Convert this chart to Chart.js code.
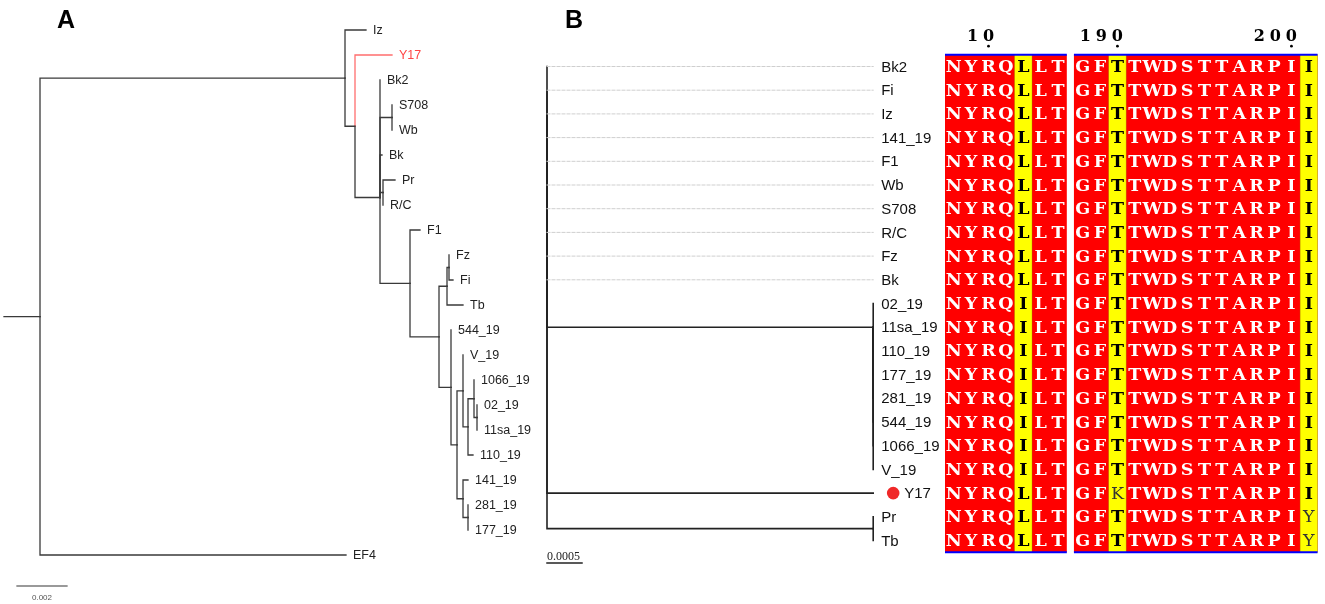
<!DOCTYPE html>
<html>
<head>
<meta charset="utf-8">
<script src="https://cdn.jsdelivr.net/npm/chart.js@4.4.1/dist/chart.umd.min.js"></script>
<style>
  html, body { margin: 0; padding: 0; background: #fff; }
  #wrap { width: 1325px; height: 604px; }
</style>
</head>
<body>
<div id="wrap"><canvas id="treeChart" width="1325" height="604"></canvas></div>
<script>
// ---- panel A: tree, branch lengths in substitutions/site ----
const leavesA = ['Iz', 'Y17', 'Bk2', 'S708', 'Wb', 'Bk', 'Pr', 'R/C', 'F1', 'Fz', 'Fi', 'Tb',
                 '544_19', 'V_19', '1066_19', '02_19', '11sa_19', '110_19', '141_19', '281_19', '177_19', 'EF4'];
// [child, parent, branch length]
const edgesA = [
  ['n1', 'root', 0.0122],
  ['Iz', 'n1', 0.00084],
  ['n2', 'n1', 0.0004],
  ['Y17', 'n2', 0.00148],
  ['n3', 'n2', 0.001],
  ['Bk2', 'n3', 0],
  ['n4', 'n3', 0.00048],
  ['S708', 'n4', 0],
  ['Wb', 'n4', 0],
  ['Bk', 'n3', 0.00008],
  ['n5', 'n3', 0.00012],
  ['Pr', 'n5', 0.00048],
  ['R/C', 'n5', 0],
  ['n6', 'n3', 0.0012],
  ['F1', 'n6', 0.0004],
  ['n7', 'n6', 0.00116],
  ['n8', 'n7', 0.00032],
  ['n9', 'n8', 0.00008],
  ['Fz', 'n9', 0],
  ['Fi', 'n9', 0.00016],
  ['Tb', 'n8', 0.00064],
  ['n10', 'n7', 0.00048],
  ['544_19', 'n10', 0],
  ['n11', 'n10', 0.00024],
  ['n12', 'n11', 0.00024],
  ['V_19', 'n12', 0],
  ['n13', 'n12', 0.0002],
  ['n14', 'n13', 0.00024],
  ['1066_19', 'n14', 0],
  ['n15', 'n14', 0.00012],
  ['02_19', 'n15', 0],
  ['11sa_19', 'n15', 0],
  ['110_19', 'n13', 0.0002],
  ['n16', 'n11', 0.00024],
  ['141_19', 'n16', 0.0002],
  ['n17', 'n16', 0.0002],
  ['281_19', 'n17', 0],
  ['177_19', 'n17', 0],
  ['EF4', 'root', 0.01224]
];
const attachRowA = { n3: 6.7 };
const rootStubA = 0.00144;
const scaleBarA = 0.002;
const highlightA = ['Y17'];

// ---- panel B: tree + alignment ----
const leavesB = ['Bk2', 'Fi', 'Iz', '141_19', 'F1', 'Wb', 'S708', 'R/C', 'Fz', 'Bk',
                 '02_19', '11sa_19', '110_19', '177_19', '281_19', '544_19', '1066_19', 'V_19',
                 'Y17', 'Pr', 'Tb'];
const edgesB = [
  ['Bk2', 'root', 0], ['Fi', 'root', 0], ['Iz', 'root', 0], ['141_19', 'root', 0], ['F1', 'root', 0],
  ['Wb', 'root', 0], ['S708', 'root', 0], ['R/C', 'root', 0], ['Fz', 'root', 0], ['Bk', 'root', 0],
  ['c1', 'root', 0.00466],
  ['02_19', 'c1', 0], ['11sa_19', 'c1', 0], ['110_19', 'c1', 0], ['177_19', 'c1', 0],
  ['281_19', 'c1', 0], ['544_19', 'c1', 0], ['1066_19', 'c1', 0], ['V_19', 'c1', 0],
  ['Y17', 'root', 0.00466],
  ['c2', 'root', 0.00466],
  ['Pr', 'c2', 0], ['Tb', 'c2', 0]
];
const attachRowB = { c1: 11 };
const scaleBarB = 0.0005;
const markedB = ['Y17'];

// alignment, one string per leaf of panel B, in the same order
const blockStarts = [8, 188];
const block1 = ['NYRQLLT', 'NYRQLLT', 'NYRQLLT', 'NYRQLLT', 'NYRQLLT', 'NYRQLLT', 'NYRQLLT',
                'NYRQLLT', 'NYRQLLT', 'NYRQLLT', 'NYRQILT', 'NYRQILT', 'NYRQILT', 'NYRQILT',
                'NYRQILT', 'NYRQILT', 'NYRQILT', 'NYRQILT', 'NYRQLLT', 'NYRQLLT', 'NYRQLLT'];
const block2 = ['GFTTWDSTTARPII', 'GFTTWDSTTARPII', 'GFTTWDSTTARPII', 'GFTTWDSTTARPII',
                'GFTTWDSTTARPII', 'GFTTWDSTTARPII', 'GFTTWDSTTARPII', 'GFTTWDSTTARPII',
                'GFTTWDSTTARPII', 'GFTTWDSTTARPII', 'GFTTWDSTTARPII', 'GFTTWDSTTARPII',
                'GFTTWDSTTARPII', 'GFTTWDSTTARPII', 'GFTTWDSTTARPII', 'GFTTWDSTTARPII',
                'GFTTWDSTTARPII', 'GFTTWDSTTARPII', 'GFKTWDSTTARPII', 'GFTTWDSTTARPIY',
                'GFTTWDSTTARPIY'];
const simGroups = ['ILMV', 'ST', 'FYW', 'KR', 'DE', 'NQ'];

// ---- layout helpers ----
function layoutTree(edges, leaves, fixedRows) {
  const kids = {}, len = {}, pos = {};
  edges.forEach(([c, p, l]) => { (kids[p] = kids[p] || []).push(c); len[c] = l; });
  function place(n, x) {
    const ch = kids[n] || [];
    ch.forEach(c => place(c, x + len[c]));
    let y;
    if (!ch.length) y = leaves.indexOf(n);
    else {
      const ys = ch.map(c => pos[c].y);
      y = (Math.min(...ys) + Math.max(...ys)) / 2;
    }
    if (fixedRows && n in fixedRows) y = fixedRows[n];
    pos[n] = { x: x, y: y };
  }
  place('root', 0);
  return { kids, pos };
}

const treeA = layoutTree(edgesA, leavesA, attachRowA);
const treeB = layoutTree(edgesB, leavesB, attachRowB);
const tipB = Math.max(...leavesB.map(n => treeB.pos[n].x));

const RED = 'rgb(255, 70, 70)';
const datasets = [];

function line(pts, xId, yId, color, width, dash) {
  datasets.push({
    data: pts, xAxisID: xId, yAxisID: yId,
    showLine: true, pointRadius: 0, borderColor: color, borderWidth: width,
    borderDash: dash || [], borderJoinStyle: 'miter', borderCapStyle: 'square', fill: false
  });
}

function treeLines(tree, xId, yId, color, width, highlight) {
  Object.keys(tree.kids).forEach(p => {
    tree.kids[p].forEach(c => {
      const a = tree.pos[p], b = tree.pos[c];
      const col = highlight.includes(c) ? 'rgb(255, 110, 110)' : color;
      line([{ x: a.x, y: a.y }, { x: a.x, y: b.y }, { x: b.x, y: b.y }], xId, yId, col, width);
    });
  });
}

// dotted guides first so branches sit on top
leavesB.forEach(n => {
  const p = treeB.pos[n];
  if (p.x < tipB) line([{ x: p.x, y: p.y }, { x: tipB, y: p.y }], 'xB', 'yB', '#cfcfcf', 1, [3, 2]);
});
treeLines(treeA, 'xA', 'yA', '#3a3a3a', 1.3, highlightA);
treeLines(treeB, 'xB', 'yB', '#222', 1.6, []);
line([{ x: -rootStubA, y: treeA.pos.root.y }, { x: 0, y: treeA.pos.root.y }], 'xA', 'yA', '#3a3a3a', 1.3);
// scale bars
line([{ x: -0.00092, y: 22.24 }, { x: -0.00092 + scaleBarA, y: 22.24 }], 'xA', 'yA', '#777', 1.3);
line([{ x: 0, y: 20.95 }, { x: scaleBarB, y: 20.95 }], 'xB', 'yB', '#222', 1.5);

// ---- custom drawing: labels and alignment ----
const blocks = [block1, block2];
const blockCol = [0, block1[0].length + 0.41];

function groupOf(ch) {
  const g = simGroups.find(s => s.includes(ch));
  return g || ch;
}

const extras = {
  id: 'extras',
  afterDatasetsDraw(chart) {
    const ctx = chart.ctx;
    const s = chart.scales;
    ctx.save();

    // panel letters
    ctx.fillStyle = '#000';
    ctx.font = 'bold 25px "Liberation Sans", Arial, sans-serif';
    ctx.textBaseline = 'alphabetic';
    ctx.fillText('A', 57, 28);
    ctx.fillText('B', 565, 28);

    // tree A labels
    ctx.font = '12.5px "Liberation Sans", Arial, sans-serif';
    ctx.textBaseline = 'middle';
    leavesA.forEach(n => {
      const p = treeA.pos[n];
      ctx.fillStyle = highlightA.includes(n) ? RED : '#222';
      ctx.fillText(n, s.xA.getPixelForValue(p.x) + 7, s.yA.getPixelForValue(p.y) + 1);
    });
    ctx.fillStyle = '#555';
    ctx.font = '8px "Liberation Sans", Arial, sans-serif';
    ctx.textAlign = 'center';
    ctx.fillText(String(scaleBarA),
      s.xA.getPixelForValue(-0.00092 + scaleBarA / 2), s.yA.getPixelForValue(22.72));

    // tree B labels
    ctx.textAlign = 'left';
    ctx.font = '15px "Liberation Sans", Arial, sans-serif';
    const lx = s.xB.getPixelForValue(tipB);
    leavesB.forEach(n => {
      const y = s.yB.getPixelForValue(treeB.pos[n].y);
      let x = lx + 8;
      if (markedB.includes(n)) {
        ctx.fillStyle = 'rgb(240, 40, 40)';
        ctx.beginPath();
        ctx.arc(lx + 20, y, 6.3, 0, Math.PI * 2);
        ctx.fill();
        x = lx + 31;
      }
      ctx.fillStyle = '#111';
      ctx.fillText(n, x, y + 1);
    });
    ctx.fillStyle = '#222';
    ctx.font = '12px "Liberation Serif", "Times New Roman", serif';
    ctx.textBaseline = 'alphabetic';
    ctx.fillText(String(scaleBarB), s.xB.getPixelForValue(0), s.yB.getPixelForValue(20.95) - 3);

    // alignment
    const top = s.yB.getPixelForValue(-0.5);
    const bottom = s.yB.getPixelForValue(leavesB.length - 0.5);
    const cx = c => s.xC.getPixelForValue(c);
    const resFont = '17.5px "DejaVu Serif", serif';
    blocks.forEach((rows, b) => {
      const n = rows[0].length;
      const x0 = cx(blockCol[b]), x1 = cx(blockCol[b] + n);
      ctx.fillStyle = '#ff0000';
      ctx.fillRect(x0, top, x1 - x0, bottom - top);
      for (let i = 0; i < n; i++) {
        const col = rows.map(r => r[i]);
        const counts = {};
        col.forEach(ch => { counts[ch] = (counts[ch] || 0) + 1; });
        const major = Object.keys(counts).sort((p, q) => counts[q] - counts[p])[0];
        const same = Object.keys(counts).length === 1;
        const xl = cx(blockCol[b] + i), xr = cx(blockCol[b] + i + 1), xm = (xl + xr) / 2;
        if (!same) {
          ctx.fillStyle = '#ffff00';
          ctx.fillRect(xl, top, xr - xl, bottom - top);
          ctx.strokeStyle = 'rgba(150,150,0,0.6)';
          ctx.lineWidth = 0.6;
          ctx.strokeRect(xl, top, xr - xl, bottom - top);
        }
        ctx.textAlign = 'center';
        ctx.textBaseline = 'middle';
        col.forEach((ch, r) => {
          const y = s.yB.getPixelForValue(r) + 1;
          if (same) {
            ctx.fillStyle = '#fff';
            ctx.font = 'bold ' + resFont;
          } else if (groupOf(ch) === groupOf(major)) {
            ctx.fillStyle = '#000';
            ctx.font = 'bold ' + resFont;
          } else {
            ctx.fillStyle = '#333';
            ctx.font = resFont;
          }
          ctx.fillText(ch, xm, y);
        });
        // position numbers every ten residues
        const resNo = blockStarts[b] + i;
        if (resNo % 10 === 0) {
          const digits = String(resNo);
          ctx.fillStyle = '#000';
          ctx.font = 'bold 16px "DejaVu Serif", serif';
          ctx.textBaseline = 'alphabetic';
          for (let k = 0; k < digits.length; k++) {
            ctx.fillText(digits[k], xm - 16 * (digits.length - 1 - k), top - 14);
          }
          ctx.beginPath();
          ctx.arc(xm, top - 8.5, 1.4, 0, Math.PI * 2);
          ctx.fill();
        }
      }
      ctx.strokeStyle = '#0000ff';
      ctx.lineWidth = 2;
      ctx.beginPath();
      ctx.moveTo(x0, top); ctx.lineTo(x1, top);
      ctx.moveTo(x0, bottom); ctx.lineTo(x1, bottom);
      ctx.stroke();
    });
    ctx.restore();
  }
};

const ctx = document.getElementById('treeChart').getContext('2d');
const treeChart = new Chart(ctx, {
    type: 'scatter',
    data: { datasets: datasets },
    options: {
        responsive: false,
        animation: false,
        layout: { padding: 0 },
        scales: {
            x: { display: false },
            y: { display: false },
            xA: { type: 'linear', axis: 'x', display: false, min: -0.0016, max: 0.0514 },
            yA: { type: 'linear', axis: 'y', display: false, reverse: true, min: -1.2, max: 22.96 },
            xB: { type: 'linear', axis: 'x', display: false, min: -547 / 70000, max: 778 / 70000 },
            yB: { type: 'linear', axis: 'y', display: false, reverse: true, min: -66.5 / 23.7, max: 537.5 / 23.7 },
            xC: { type: 'linear', axis: 'x', display: false, min: -945 / 17.4, max: 380 / 17.4 }
        },
        plugins: {
            legend: { display: false },
            tooltip: { enabled: false }
        }
    },
    plugins: [extras]
});
</script>
</body>
</html>
